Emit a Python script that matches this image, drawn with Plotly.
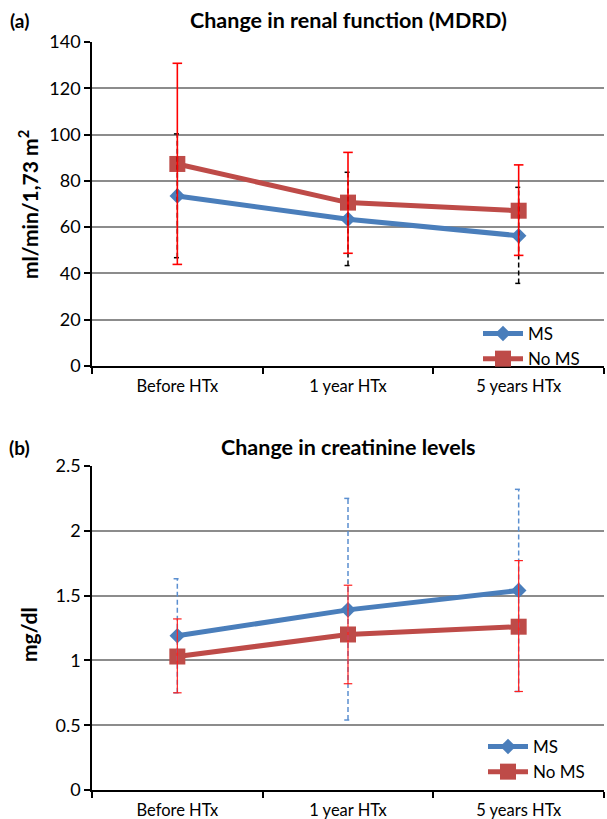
import plotly.graph_objects as go
from plotly.subplots import make_subplots

# ---------------- data ----------------
categories = ["Before HTx", "1 year HTx", "5 years HTx"]

mdrd_ms = [73.5, 63.4, 56.3]
mdrd_ms_hi = [100.3, 83.7, 77.2]
mdrd_ms_lo = [46.8, 43.4, 35.7]

mdrd_noms = [87.3, 70.6, 67.1]
mdrd_noms_hi = [130.8, 92.3, 86.9]
mdrd_noms_lo = [43.9, 48.7, 47.8]

creat_ms = [1.19, 1.39, 1.54]
creat_ms_hi = [1.63, 2.25, 2.32]
creat_ms_lo = [0.75, 0.54, 0.76]

creat_noms = [1.03, 1.20, 1.26]
creat_noms_hi = [1.32, 1.58, 1.77]
creat_noms_lo = [0.75, 0.82, 0.76]

# ---------------- style ----------------
FONT = "Lato"
BLUE = "#4A7EBB"
RED = "#BE4B48"
GRID = "#8C8C8C"
xpos = list(range(len(categories)))

fig = make_subplots(rows=2, cols=1)


def err_trace(lo, hi, color, width, dash, cap, row):
    xs, ys = [], []
    for i, (l, h) in enumerate(zip(lo, hi)):
        xs += [i, i, None, i - cap, i + cap, None, i - cap, i + cap, None]
        ys += [l, h, None, h, h, None, l, l, None]
    fig.add_trace(go.Scatter(x=xs, y=ys, mode="lines", showlegend=False,
                             hoverinfo="skip",
                             line=dict(color=color, width=width, dash=dash)),
                  row=row, col=1)


def series(y, name, color, symbol, size, row, legend):
    fig.add_trace(go.Scatter(x=xpos, y=y, name=name, mode="lines+markers",
                             legend=legend, legendgroup=name + legend,
                             line=dict(color=color, width=5),
                             marker=dict(color=color, symbol=symbol, size=size)),
                  row=row, col=1)


# top panel
series(mdrd_ms, "MS", BLUE, "diamond", 12, 1, "legend")
series(mdrd_noms, "No MS", RED, "square", 16, 1, "legend")
err_trace(mdrd_ms_lo, mdrd_ms_hi, "#000000", 1.5, "5px,3px", 0.02, 1)
err_trace(mdrd_noms_lo, mdrd_noms_hi, "#FF0000", 1.6, "solid", 0.028, 1)

# bottom panel
series(creat_ms, "MS", BLUE, "diamond", 12, 2, "legend2")
series(creat_noms, "No MS", RED, "square", 16, 2, "legend2")
err_trace(creat_ms_lo, creat_ms_hi, "#5B8FD0", 1.5, "5px,3px", 0.022, 2)
err_trace(creat_noms_lo, creat_noms_hi, "#FF2020", 1.2, "solid", 0.025, 2)

ML, MR, MT, MB = 92, 3, 42, 29
W, H = 607, 819
ph = H - MT - MB
pw = W - ML - MR


def py(pix):
    return (H - MB - pix) / ph


def px(pix):
    return (pix - ML) / pw


xaxis_common = dict(
    range=[-0.5, 2.5], tickmode="array", tickvals=xpos, ticktext=categories,
    ticks="", showgrid=False, zeroline=False, automargin=False,
    ticklabelstandoff=4,
    showline=True, linecolor="#000000", linewidth=1.5,
    tickfont=dict(family=FONT, size=16.5, color="#000000"),
    minor=dict(tickmode="array", tickvals=[-0.5, 0.5, 1.5, 2.5],
               ticks="outside", ticklen=6, tickwidth=1.5,
               tickcolor="#000000", showgrid=False),
)
yaxis_common = dict(
    showline=True, linecolor="#000000", linewidth=1.5, automargin=False,
    ticks="outside", ticklen=6, tickwidth=1.5, tickcolor="#000000",
    showgrid=True, gridcolor=GRID, gridwidth=1.5, zeroline=False,
    tickfont=dict(family=FONT, size=18, color="#000000"),
)

fig.update_layout(
    width=W, height=H, margin=dict(l=ML, r=MR, t=MT, b=MB, autoexpand=False),
    plot_bgcolor="white", paper_bgcolor="white",
    font=dict(family=FONT, color="#000000"),
    xaxis=dict(domain=[0, 1], anchor="y", **xaxis_common),
    xaxis2=dict(domain=[0, 1], anchor="y2", **xaxis_common),
    yaxis=dict(domain=[py(366), 1], anchor="x", range=[0, 140], dtick=20,
               **yaxis_common),
    yaxis2=dict(domain=[0, py(466)], anchor="x2", range=[0, 2.5], dtick=0.5,
                **yaxis_common),
    legend=dict(x=px(478), y=py(316), xanchor="left", yanchor="top",
                font=dict(family=FONT, size=17, color="#000000"),
                bgcolor="rgba(0,0,0,0)", tracegroupgap=0, itemwidth=40),
    legend2=dict(x=px(483), y=py(729), xanchor="left", yanchor="top",
                 font=dict(family=FONT, size=17, color="#000000"),
                 bgcolor="rgba(0,0,0,0)", tracegroupgap=0, itemwidth=40),
    showlegend=True,
)

annots = [
    dict(text="<b>Change in renal function (MDRD)</b>", x=px(348), y=py(20), size=21.5),
    dict(text="<b>(a)</b>", x=px(19), y=py(20), size=19),
    dict(text="<b>Change in creatinine levels</b>", x=px(348), y=py(447), size=21.5),
    dict(text="<b>(b)</b>", x=px(19), y=py(448), size=19),
]
for a in annots:
    fig.add_annotation(text=a["text"], x=a["x"], y=a["y"], xref="paper", yref="paper",
                       xanchor="center", yanchor="middle", showarrow=False,
                       font=dict(family=FONT, size=a["size"], color="#000000"))

fig.add_annotation(text="<b>ml/min/1,73 m<sup>2</sup></b>", x=px(28), y=py(205),
                   xref="paper", yref="paper", xanchor="center", yanchor="middle",
                   textangle=-90, showarrow=False,
                   font=dict(family=FONT, size=21, color="#000000"))
fig.add_annotation(text="<b>mg/dl</b>", x=px(28), y=py(635),
                   xref="paper", yref="paper", xanchor="center", yanchor="middle",
                   textangle=-90, showarrow=False,
                   font=dict(family=FONT, size=21, color="#000000"))

fig.write_html("out.html",
               config={"displayModeBar": False},
               post_script="document.body.style.margin='0';"
                           "document.body.style.overflow='hidden';")
